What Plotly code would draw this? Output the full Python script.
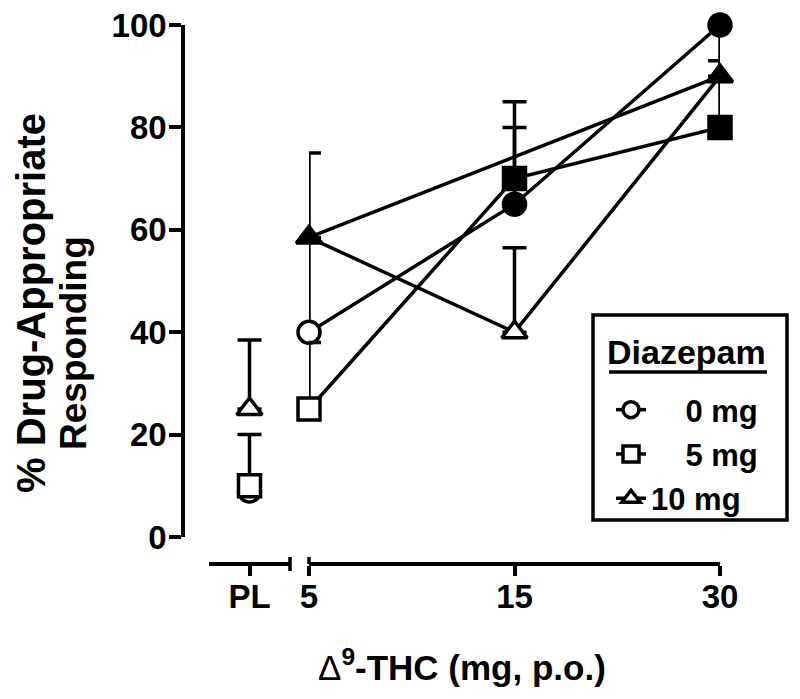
import plotly.graph_objects as go

# ---------------- data ----------------
pl_category = ["PL"]
dose_categories = ["5", "15", "30"]

series_names = ["0 mg", "5 mg", "10 mg"]
series_symbols = ["circle", "square", "triangle-up"]
legend_title = "Diazepam"

# placebo (PL) means and upper SEM
pl_mean_0mg = [9]
pl_mean_5mg = [10]
pl_mean_10mg = [25]
pl_err_0mg = [0]
pl_err_5mg = [10]
pl_err_10mg = [13.5]

# THC doses 5, 15, 30 mg
mean_0mg = [40, 65, 100]
mean_5mg = [25, 70, 80]
mean_10mg = [58.5, 40, 90]
err_0mg = [18, 15, 0]
err_5mg = [13, 15, 13]
err_10mg = [16.5, 16.5, 10]

# filled symbol = significantly different
filled_0mg = [False, True, True]
filled_5mg = [False, True, True]
filled_10mg = [True, False, True]

y_ticks = [0, 20, 40, 60, 80, 100]

# ---------------- styling ----------------
FONT = "Liberation Sans, Arial, sans-serif"
LW = 3.5
MS = 22
BLACK = "black"

pl_means = [pl_mean_0mg, pl_mean_5mg, pl_mean_10mg]
pl_errs = [pl_err_0mg, pl_err_5mg, pl_err_10mg]
means = [mean_0mg, mean_5mg, mean_10mg]
errs = [err_0mg, err_5mg, err_10mg]
filled = [filled_0mg, filled_5mg, filled_10mg]

fig = go.Figure()

# connecting lines (drawn first, under all markers)
for m in means:
    fig.add_trace(go.Scatter(
        x=dose_categories, y=m, xaxis="x2", yaxis="y", mode="lines",
        line=dict(color=BLACK, width=LW), showlegend=False, hoverinfo="skip",
        cliponaxis=False))
# direct 5 -> 30 segment of the 10 mg series
fig.add_trace(go.Scatter(
    x=[dose_categories[0], dose_categories[-1]], y=[mean_10mg[0], mean_10mg[-1]],
    xaxis="x2", yaxis="y", mode="lines",
    line=dict(color=BLACK, width=LW), showlegend=False, hoverinfo="skip",
    cliponaxis=False))

legend_label_pad = ["\u00a0" * 4, "\u00a0" * 4, ""]

for i in range(3):
    # placebo point (also legend entry)
    fig.add_trace(go.Scatter(
        x=pl_category, y=pl_means[i], xaxis="x", yaxis="y",
        mode="lines+markers", name=legend_label_pad[i] + series_names[i],
        legendgroup=series_names[i],
        line=dict(color=BLACK, width=LW),
        marker=dict(symbol=series_symbols[i], size=MS, color="white",
                    line=dict(color=BLACK, width=LW)),
        error_y=dict(type="data", array=pl_errs[i], arrayminus=[0] * len(pl_errs[i]),
                     symmetric=False, color=BLACK, thickness=LW, width=12),
        cliponaxis=False))
    # dose points
    fig.add_trace(go.Scatter(
        x=dose_categories, y=means[i], xaxis="x2", yaxis="y",
        mode="markers", showlegend=False, legendgroup=series_names[i],
        marker=dict(symbol=series_symbols[i], size=MS,
                    color=[BLACK if f else "white" for f in filled[i]],
                    line=dict(color=BLACK, width=LW)),
        error_y=dict(type="data", array=errs[i], arrayminus=[0] * len(errs[i]),
                     symmetric=False, color=BLACK, thickness=LW, width=12),
        cliponaxis=False))

# the page body has an 8 px margin: targets below are screenshot pixels
OFF = 8
W, H = 800, 699
L = 183 - OFF          # y-axis line
T = 25 - OFF           # y = 100
XLINE = 564 - OFF      # x-axis line
B = H - XLINE
R = 40
PW = W - L - R
PH = H - T - B


def px_x(p):
    return (p - OFF - L) / PW


def px_y(p):
    return (H - B - (p - OFF)) / PH


axis_common = dict(
    showline=True, linecolor=BLACK, linewidth=LW,
    ticks="outside", tickcolor=BLACK, tickwidth=LW,
    showgrid=False, zeroline=False, automargin=False,
    ticklabeloverflow="allow",
    tickfont=dict(family=FONT, size=33, color=BLACK, weight="bold"),
)

fig.update_layout(
    template="none",
    width=W, height=H,
    margin=dict(l=L, r=R, t=T, b=B, autoexpand=False),
    paper_bgcolor="white", plot_bgcolor="white",
    font=dict(family=FONT, color=BLACK, weight="bold"),
    xaxis=dict(domain=[px_x(209), px_x(290)], type="category",
               categoryorder="array", categoryarray=pl_category,
               range=[-0.5, 0.5], anchor="free", position=0, ticklen=10,
               ticklabelstandoff=-7, **axis_common),
    xaxis2=dict(domain=[px_x(309), px_x(720)], type="category",
                categoryorder="array", categoryarray=dose_categories,
                range=[0, 2], anchor="free", position=0, ticklen=10,
                ticklabelstandoff=-7, **axis_common),
    yaxis=dict(domain=[px_y(537), 1], range=[0, 100], tickvals=y_ticks,
               anchor="free", position=0, ticklen=12,
               ticklabelstandoff=-4, **axis_common),
    showlegend=True,
    legend=dict(
        x=px_x(611), y=px_y(383), xanchor="left", yanchor="top",
        borderwidth=0, bgcolor="rgba(0,0,0,0)",
        font=dict(family=FONT, size=31, color=BLACK, weight="bold"),
        tracegroupgap=1, itemsizing="trace",
    ),
    shapes=[
        # end cap of the PL axis segment
        dict(type="line", xref="x domain", x0=1, x1=1, yref="paper",
             ysizemode="pixel", yanchor=0, y0=-7, y1=7,
             line=dict(color=BLACK, width=LW)),
        # start cap of the dose axis segment
        dict(type="line", xref="x2 domain", x0=0, x1=0, yref="paper",
             ysizemode="pixel", yanchor=0, y0=0, y1=7,
             line=dict(color=BLACK, width=LW)),
        # legend box
        dict(type="rect", xref="paper", yref="paper",
             x0=px_x(593), x1=px_x(787), y0=px_y(520), y1=px_y(315),
             line=dict(color=BLACK, width=LW), fillcolor="rgba(0,0,0,0)"),
        # underline of legend title
        dict(type="line", xref="paper", yref="paper",
             x0=px_x(609), x1=px_x(767), y0=px_y(372), y1=px_y(372),
             line=dict(color=BLACK, width=LW)),
    ],
    annotations=[
        dict(text=legend_title, showarrow=False, xref="paper", yref="paper",
             x=px_x(686), y=px_y(352), xanchor="center", yanchor="middle",
             font=dict(family=FONT, size=34, color=BLACK, weight="bold")),
        dict(text="% Drug-Appropriate", textangle=-90, showarrow=False,
             xref="paper", yref="paper", x=px_x(31), y=px_y(303),
             xanchor="center", yanchor="middle",
             font=dict(family=FONT, size=40, color=BLACK, weight="bold")),
        dict(text="Responding", textangle=-90, showarrow=False,
             xref="paper", yref="paper", x=px_x(73), y=px_y(343),
             xanchor="center", yanchor="middle",
             font=dict(family=FONT, size=37, color=BLACK, weight="bold")),
        dict(text="<span style='font-weight:normal'>\u0394</span><sup>9</sup>-THC (mg, p.o.)",
             showarrow=False, xref="paper", yref="paper",
             x=px_x(462), y=px_y(665), xanchor="center", yanchor="middle",
             font=dict(family=FONT, size=35, color=BLACK, weight="bold")),
    ],
)

fig.write_html("out.html")
